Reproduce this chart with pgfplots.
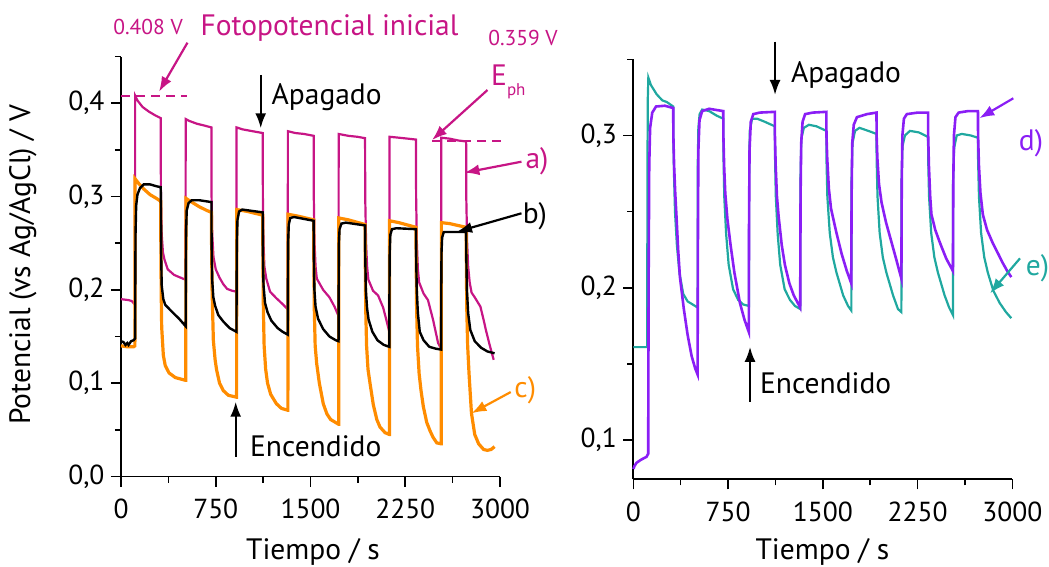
\documentclass[border=0pt]{standalone}
\usepackage{pgfplots}
\pgfplotsset{compat=1.18}
\usepackage{fontspec}
\setmainfont{PT Sans}
\usetikzlibrary{arrows.meta}
\definecolor{cA}{RGB}{199,21,133}
\definecolor{cC}{RGB}{255,140,0}
\definecolor{cD}{RGB}{138,30,245}
\definecolor{cE}{RGB}{32,168,160}
\newcommand{\ann}{\fontsize{29.5}{31}\selectfont}
\newcommand{\tickf}{\fontsize{27.5}{29}\selectfont}
\tikzset{arr/.style={line width=2.2pt, -{Latex[length=15pt,width=11pt]}}}
\pgfplotsset{
  myax/.style={
    scale only axis, width=379pt, height=420pt,
    axis lines=left, axis line style={-, line width=1.8pt},
    tick align=outside, major tick length=10pt, minor tick length=6pt,
    tick style={line width=1.6pt, black},
    xmin=0, xmax=3000,
    xtick={0,750,1500,2250,3000}, minor xtick={375,1125,1875,2625},
    scaled y ticks=false,
    tick label style={font=\tickf},
    /pgf/number format/assume math mode=true,
    xticklabel style={/pgf/number format/1000 sep={}, yshift=-9pt},
    yticklabel style={/pgf/number format/.cd, fixed, fixed zerofill, precision=1, use comma, /tikz/xshift=-3pt},
    label style={font=\ann},
    clip=false,
  }
}
\begin{document}
\begin{tikzpicture}
\path[use as bounding box] (0pt,0pt) rectangle (1049pt,-567pt);
% ---------------- left panel ----------------
\begin{axis}[myax, at={(121pt,-476.5pt)}, anchor=south west,
  ymin=0, ymax=0.45,
  ytick={0,0.1,0.2,0.3,0.4}, minor ytick={0.05,0.15,0.25,0.35,0.45},
  xlabel={Tiempo / s}, xlabel style={at={(axis description cs:0.5066,-0.179)}, anchor=center},
  ylabel={Potencial (vs Ag/AgCl) / V}, ylabel style={at={(axis description cs:-0.2586,0.5036)}, anchor=center},
]
% a) magenta
\addplot[cA, line width=2.2pt] coordinates {
(0,0.190)(60,0.189)(85,0.188)(105,0.185)(111,0.184)(112,0.408)(130,0.403)(170,0.396)(220,0.391)(270,0.387)(314,0.384)
(316,0.30)(322,0.26)(332,0.24)(345,0.232)(370,0.222)(420,0.216)(490,0.212)(511,0.211)
(512,0.383)(540,0.381)(600,0.378)(660,0.376)(716,0.374)
(717,0.30)(722,0.26)(732,0.235)(750,0.222)(780,0.213)(810,0.206)(840,0.201)(880,0.199)(914,0.198)
(915,0.374)(960,0.372)(1040,0.370)(1122,0.368)
(1123,0.30)(1128,0.25)(1135,0.225)(1150,0.212)(1180,0.198)(1230,0.191)(1285,0.184)(1320,0.179)
(1321,0.370)(1380,0.368)(1450,0.367)(1525,0.365)
(1526,0.30)(1532,0.25)(1540,0.225)(1550,0.212)(1600,0.200)(1650,0.192)(1690,0.182)(1722,0.172)
(1723,0.367)(1800,0.365)(1870,0.364)(1932,0.3625)
(1933,0.30)(1940,0.25)(1948,0.225)(1958,0.211)(1995,0.199)(2035,0.194)(2075,0.181)(2100,0.168)(2124,0.155)
(2125,0.364)(2200,0.363)(2270,0.362)(2335,0.361)
(2336,0.30)(2342,0.25)(2350,0.222)(2360,0.208)(2395,0.196)(2430,0.189)(2470,0.168)(2510,0.143)(2534,0.137)
(2535,0.363)(2600,0.362)(2670,0.360)(2732,0.359)
(2733,0.30)(2740,0.25)(2748,0.225)(2760,0.208)(2775,0.197)(2800,0.192)(2845,0.182)(2870,0.168)(2890,0.156)(2920,0.14)(2950,0.125)
};
% c) orange
\addplot[cC, line width=3.2pt] coordinates {
(0,0.140)(50,0.139)(100,0.139)(110,0.140)(111,0.319)(140,0.314)(180,0.308)(230,0.302)(280,0.298)(314,0.295)
(315,0.26)(318,0.2)(322,0.16)(335,0.13)(350,0.119)(380,0.111)(430,0.106)(512,0.103)
(513,0.103)(514,0.298)(560,0.294)(620,0.289)(680,0.285)(716,0.283)
(717,0.25)(721,0.2)(731,0.146)(745,0.125)(757,0.114)(780,0.1)(810,0.092)(850,0.087)(914,0.085)
(915,0.085)(916,0.286)(1000,0.284)(1122,0.280)
(1123,0.24)(1127,0.18)(1133,0.14)(1145,0.115)(1160,0.1)(1185,0.088)(1230,0.078)(1270,0.073)(1320,0.071)
(1321,0.071)(1322,0.281)(1400,0.279)(1525,0.275)
(1526,0.24)(1530,0.18)(1537,0.14)(1549,0.121)(1570,0.1)(1601,0.078)(1630,0.067)(1660,0.061)(1722,0.056)
(1723,0.056)(1724,0.277)(1800,0.275)(1932,0.270)
(1933,0.24)(1937,0.18)(1944,0.14)(1955,0.115)(1971,0.1)(1997,0.077)(2025,0.061)(2050,0.053)(2090,0.047)(2124,0.045)
(2125,0.045)(2126,0.274)(2200,0.272)(2335,0.267)
(2336,0.24)(2340,0.18)(2347,0.14)(2360,0.11)(2375,0.092)(2393,0.075)(2420,0.058)(2446,0.049)(2470,0.042)(2500,0.036)(2534,0.035)
(2535,0.035)(2536,0.272)(2600,0.271)(2732,0.267)
(2733,0.24)(2737,0.18)(2744,0.14)(2755,0.11)(2774,0.068)(2800,0.045)(2831,0.035)(2870,0.029)(2900,0.028)(2930,0.029)(2957,0.032)
};
% b) black
\addplot[black, line width=2.4pt] coordinates {
(0,0.145)(20,0.144)(35,0.141)(50,0.143)(60,0.141)(80,0.145)(100,0.146)(112,0.148)
(113,0.2)(115,0.26)(120,0.29)(130,0.302)(150,0.309)(180,0.313)(230,0.313)(280,0.311)(314,0.310)
(316,0.30)(318,0.24)(322,0.205)(335,0.19)(350,0.184)(400,0.177)(460,0.169)(512,0.161)
(513,0.2)(515,0.26)(520,0.285)(535,0.293)(560,0.296)(620,0.296)(716,0.294)
(717,0.25)(722,0.21)(731,0.192)(745,0.183)(770,0.173)(810,0.166)(860,0.159)(914,0.155)
(915,0.2)(917,0.25)(922,0.275)(935,0.284)(960,0.286)(1122,0.283)
(1123,0.24)(1128,0.205)(1140,0.186)(1160,0.176)(1190,0.167)(1240,0.159)(1280,0.155)(1320,0.152)
(1321,0.2)(1323,0.25)(1328,0.27)(1340,0.277)(1370,0.278)(1525,0.274)
(1526,0.24)(1531,0.2)(1540,0.182)(1560,0.169)(1600,0.158)(1650,0.150)(1700,0.146)(1722,0.145)
(1723,0.2)(1725,0.25)(1730,0.265)(1745,0.271)(1780,0.272)(1932,0.269)
(1933,0.24)(1938,0.2)(1948,0.18)(1960,0.168)(1990,0.155)(2030,0.146)(2080,0.141)(2124,0.139)
(2125,0.2)(2127,0.24)(2132,0.259)(2145,0.265)(2180,0.266)(2335,0.265)
(2336,0.24)(2341,0.2)(2350,0.175)(2365,0.155)(2395,0.146)(2440,0.139)(2490,0.137)(2534,0.136)
(2535,0.2)(2537,0.24)(2542,0.256)(2555,0.262)(2732,0.262)
(2733,0.24)(2738,0.2)(2748,0.175)(2765,0.157)(2800,0.145)(2850,0.138)(2900,0.134)(2957,0.132)
};
% annotations
\draw[cA, line width=2pt, dash pattern=on 9pt off 6pt] (axis cs:0,0.408) -- (axis cs:526,0.408);
\draw[cA, line width=2pt, dash pattern=on 9pt off 6pt] (axis cs:2462,0.359) -- (axis cs:3029,0.359);
\draw[cA, arr] (axis cs:526,0.4648) -- (axis cs:301,0.4123);
\draw[cA, arr] (axis cs:2901,0.4141) -- (axis cs:2462,0.3605);
\node[cA, font=\fontsize{21.5}{22}\selectfont, anchor=center] at (axis cs:214,0.4816) {0.408 V};
\node[cA, font=\ann, anchor=center] at (axis cs:1651,0.4805) {Fotopotencial inicial};
\node[cA, font=\fontsize{21.5}{22}\selectfont, anchor=center] at (axis cs:3182,0.4698) {0.359 V};
\node[cA, font=\ann, anchor=base west, inner sep=0pt] at (axis cs:2929,0.4184) {E\raisebox{-10pt}{\fontsize{17}{18}\selectfont ph}};
\node[cA, font=\ann, anchor=center] at (axis cs:3293,0.3373) {a)};
\draw[cA, arr] (axis cs:3170,0.3373) -- (axis cs:2718,0.3255);
\node[black, font=\ann, anchor=center] at (axis cs:3277,0.2784) {b)};
\draw[black, arr] (axis cs:3170,0.282) -- (axis cs:2660,0.2623);
\node[cC, font=\ann, anchor=center] at (axis cs:3200,0.0927) {c)};
\draw[cC, arr] (axis cs:3085,0.0905) -- (axis cs:2774,0.0677);
\draw[black, arr] (axis cs:1106,0.4302) -- (axis cs:1106,0.3731);
\node[black, font=\ann, anchor=west, inner sep=0pt] at (axis cs:1191,0.4066) {Apagado};
\draw[black, arr] (axis cs:908,0.0212) -- (axis cs:908,0.0801);
\node[black, font=\ann, anchor=west, inner sep=0pt] at (axis cs:1021,0.0319) {Encendido};
\end{axis}
% ---------------- right panel ----------------
\begin{axis}[myax, at={(633.3pt,-479.3pt)}, anchor=south west,
  ymin=0.0742, ymax=0.35,
  ytick={0.1,0.2,0.3}, minor ytick={0.15,0.25,0.35},
  xlabel={Tiempo / s}, xlabel style={at={(axis description cs:0.499,-0.172)}, anchor=center},
]
% e) teal
\addplot[cE, line width=2.2pt] coordinates {
(0,0.161)(50,0.161)(100,0.161)(110,0.161)(112,0.28)(115,0.325)(119,0.338)(140,0.333)(185,0.327)(230,0.323)(264,0.322)(316,0.319)
(317,0.30)(322,0.275)(330,0.25)(345,0.228)(365,0.21)(395,0.196)(430,0.191)(470,0.189)(509,0.187)
(510,0.28)(515,0.305)(525,0.314)(545,0.317)(600,0.316)(660,0.313)(712,0.311)
(713,0.29)(720,0.26)(735,0.235)(755,0.215)(790,0.199)(830,0.192)(870,0.189)(916,0.188)
(917,0.28)(922,0.303)(940,0.311)(980,0.311)(1040,0.309)(1120,0.306)
(1121,0.29)(1128,0.26)(1143,0.235)(1163,0.215)(1198,0.199)(1240,0.192)(1280,0.188)(1322,0.186)
(1323,0.27)(1330,0.298)(1350,0.305)(1390,0.307)(1450,0.306)(1528,0.303)
(1529,0.285)(1536,0.26)(1555,0.236)(1580,0.22)(1608,0.21)(1661,0.195)(1700,0.188)(1726,0.185)
(1727,0.27)(1735,0.295)(1755,0.303)(1790,0.305)(1860,0.303)(1925,0.301)
(1926,0.285)(1933,0.26)(1950,0.236)(1975,0.22)(2003,0.21)(2056,0.195)(2095,0.186)(2122,0.184)
(2123,0.27)(2131,0.293)(2150,0.300)(2190,0.303)(2260,0.302)(2333,0.299)
(2334,0.285)(2341,0.26)(2358,0.236)(2383,0.22)(2411,0.21)(2464,0.195)(2500,0.187)(2530,0.182)
(2531,0.27)(2540,0.292)(2560,0.300)(2600,0.301)(2670,0.300)(2728,0.2985)
(2729,0.285)(2736,0.26)(2753,0.236)(2778,0.22)(2806,0.21)(2850,0.198)(2900,0.19)(2950,0.184)(2992,0.18)
};
% d) purple
\addplot[cD, line width=2.6pt] coordinates {
(0,0.081)(10,0.083)(25,0.085)(60,0.087)(105,0.089)(118,0.091)
(121,0.2)(126,0.28)(133,0.305)(150,0.315)(180,0.319)(250,0.3195)(316,0.318)
(317,0.30)(323,0.28)(332,0.262)(343,0.245)(355,0.225)(369,0.207)(400,0.186)(430,0.169)(462,0.155)(490,0.147)(509,0.143)
(511,0.22)(515,0.29)(524,0.31)(545,0.316)(600,0.3175)(712,0.316)
(713,0.30)(719,0.28)(728,0.262)(745,0.245)(770,0.228)(800,0.21)(844,0.19)(880,0.179)(914,0.171)
(916,0.24)(920,0.29)(930,0.309)(950,0.314)(1000,0.315)(1120,0.3155)
(1121,0.30)(1127,0.28)(1137,0.26)(1150,0.247)(1175,0.228)(1200,0.215)(1235,0.203)(1270,0.195)(1321,0.187)
(1324,0.26)(1329,0.295)(1340,0.309)(1360,0.314)(1420,0.315)(1528,0.3155)
(1529,0.30)(1535,0.285)(1548,0.265)(1565,0.252)(1608,0.236)(1650,0.222)(1690,0.211)(1725,0.203)
(1728,0.26)(1733,0.295)(1745,0.307)(1770,0.312)(1850,0.314)(1925,0.315)
(1926,0.30)(1932,0.285)(1945,0.268)(1965,0.256)(2000,0.243)(2040,0.231)(2080,0.219)(2122,0.206)
(2125,0.27)(2130,0.3)(2142,0.311)(2165,0.314)(2250,0.315)(2333,0.315)
(2334,0.30)(2340,0.28)(2350,0.26)(2360,0.248)(2390,0.238)(2425,0.23)(2478,0.219)(2530,0.211)
(2533,0.27)(2538,0.3)(2550,0.312)(2575,0.315)(2650,0.316)(2728,0.316)
(2729,0.30)(2736,0.28)(2748,0.262)(2767,0.248)(2800,0.238)(2847,0.229)(2890,0.222)(2926,0.216)(2960,0.211)(2992,0.207)
};
\draw[black, arr] (axis cs:1122,0.3616) -- (axis cs:1122,0.3266);
\node[black, font=\ann, anchor=west, inner sep=0pt] at (axis cs:1247,0.3397) {Apagado};
\draw[black, arr] (axis cs:924,0.1251) -- (axis cs:924,0.1612);
\node[black, font=\ann, anchor=west, inner sep=0pt] at (axis cs:1002,0.1373) {Encendido};
\node[cD, font=\ann, anchor=center] at (axis cs:3148,0.2950) {d)};
\draw[cD, arr] (axis cs:3008,0.3244) -- (axis cs:2739,0.3113);
\node[cE, font=\ann, anchor=center] at (axis cs:3200,0.2130) {e)};
\draw[cE, arr] (axis cs:3061,0.2193) -- (axis cs:2824,0.1963);
\end{axis}
\end{tikzpicture}
\end{document}
